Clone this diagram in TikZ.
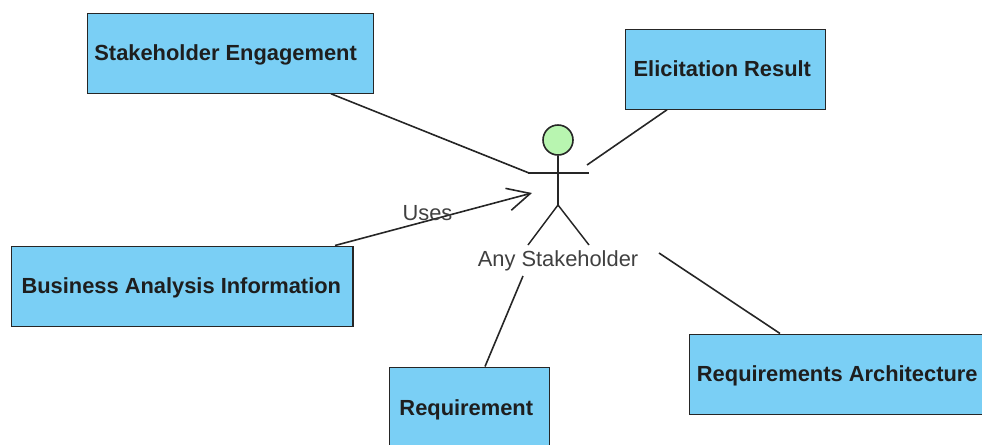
\documentclass[tikz,border=0pt]{standalone}
\usepackage{fontspec}
\setmainfont{Liberation Sans}
\usetikzlibrary{arrows.meta}
\definecolor{boxblue}{RGB}{122,207,245}
\definecolor{txt}{RGB}{30,30,30}
\definecolor{headgreen}{RGB}{184,245,176}
\tikzset{
 cls/.style={draw=black!85,fill=boxblue,line width=0.95pt,minimum height=60pt,inner sep=0pt,font=\bfseries\fontsize{16.4}{18}\selectfont,text=txt,anchor=north west},
 lnk/.style={draw=black!85,line width=1.2pt},
 stick/.style={draw=black!85,line width=1.1pt},
 lbl/.style={inner sep=0pt,font=\fontsize{16.4}{18}\selectfont,text=black!75}
}
\newcommand{\boxtext}[3]{\raisebox{#3pt}[10pt][10pt]{\hspace*{#1pt}#2}}
\begin{document}
\begin{tikzpicture}[x=0.75pt,y=-0.75pt]
\useasboundingbox (0,0) rectangle (982,444);
\node[cls,minimum width=214.5pt] (se) at (87,12.5) {\boxtext{-7.5}{Stakeholder Engagement}{-5.8}};
\node[cls,minimum width=150pt] (er) at (625,28.5) {\boxtext{-5}{Elicitation Result}{-5.3}};
\node[cls,minimum width=256pt] (ba) at (11,245.5) {\boxtext{-1.5}{Business Analysis Information}{-5.3}};
\node[cls,minimum width=120pt] (rq) at (389,366.5) {\boxtext{-5}{Requirement}{-6.5}};
\node[cls,minimum width=220pt] (ra) at (689,333.5) {\boxtext{1.5}{Requirements Architecture}{-5.3}};
\node[circle,draw=black!85,fill=headgreen,line width=1.2pt,minimum size=22.5pt,inner sep=0pt] (head) at (558,140) {};
\coordinate (hip) at (558,205);
\coordinate (armL) at (528,173);
\coordinate (armR) at (589,173);
\coordinate (legL) at (528,245);
\coordinate (legR) at (589,245);
\draw[stick] (head.south) -- (hip);
\draw[stick] (armL) -- (armR);
\draw[stick] (legL) -- (hip) -- (legR);
\node[lbl] (actor) at (558,261) {Any Stakeholder};
\coordinate (a1) at (529,173);
\coordinate (a2) at (587,165);
\coordinate (a3) at (532,193);
\coordinate (a4) at (523,276);
\coordinate (a5) at (659,253);
\draw[lnk] (331,0 |- se.south) -- (a1);
\draw[lnk] (667,0 |- er.south) -- (a2);
\draw[lnk,-{Straight Barb[length=17pt,width=17pt,line width=1.2pt]}] (335,0 |- ba.north) -- (a3);
\draw[lnk] (485,0 |- rq.north) -- (a4);
\draw[lnk] (780,0 |- ra.north) -- (a5);
\node[lbl] (uses) at (427.5,213) {Uses};
\end{tikzpicture}
\end{document}
